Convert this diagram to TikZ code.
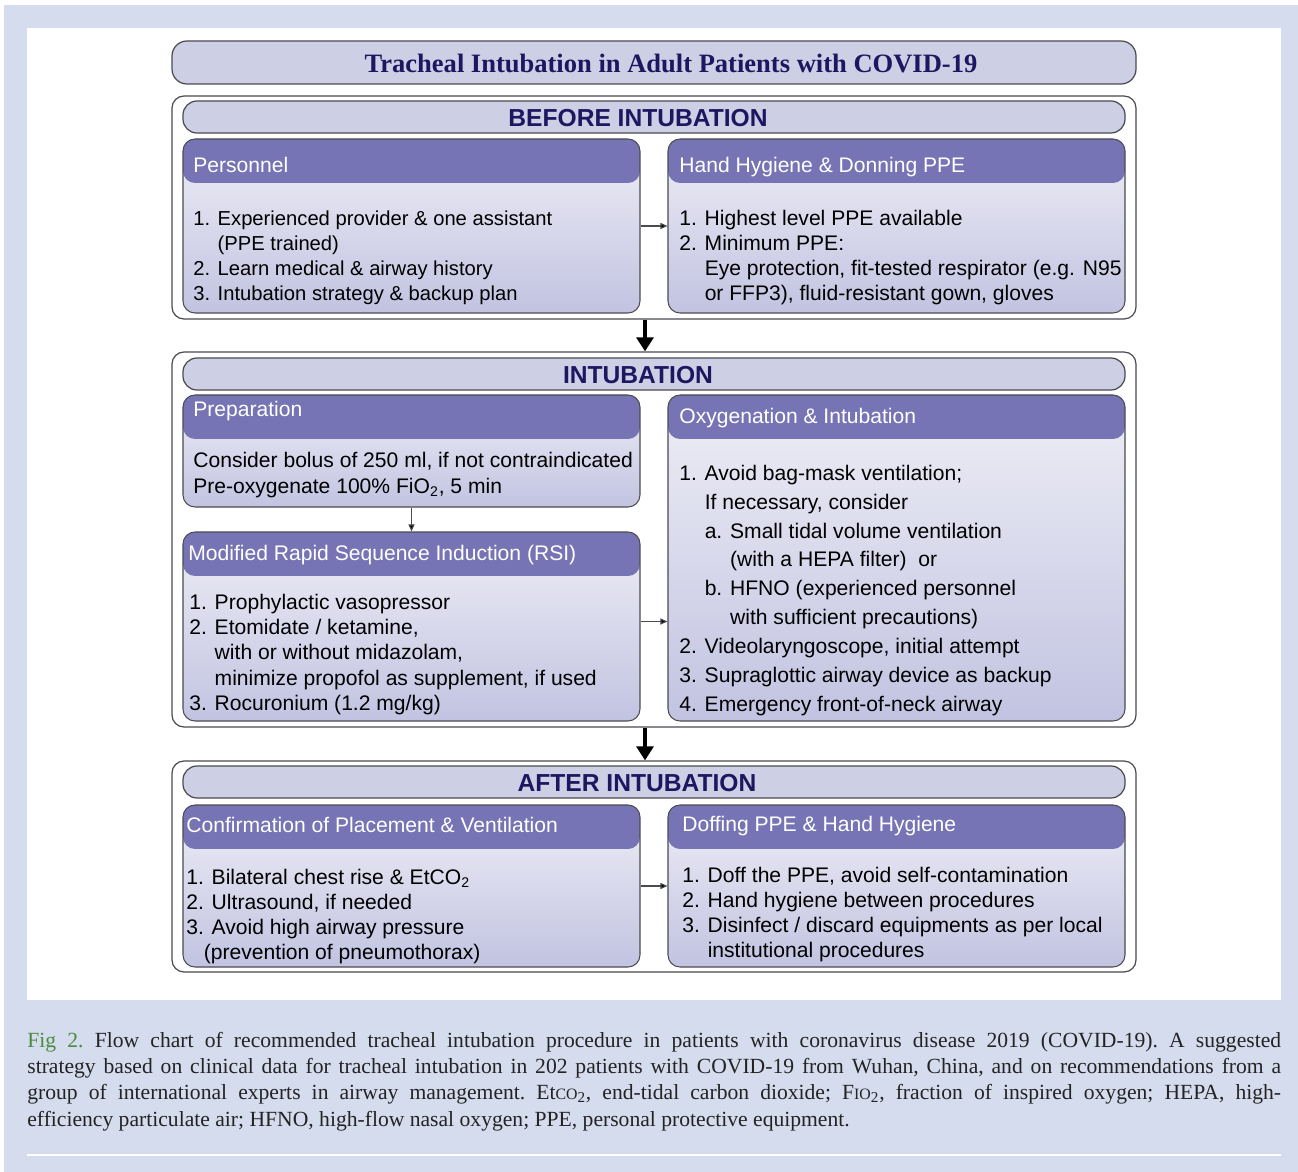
\documentclass[tikz,border=0pt]{standalone}
\usepackage{fontspec}
\setmainfont{Liberation Sans}
\newfontfamily\capfont{Liberation Serif}
\usetikzlibrary{arrows.meta}
\usetikzlibrary{fit}

\definecolor{pagebg}{RGB}{212,220,238}
\definecolor{barfill}{RGB}{205,207,229}
\definecolor{hdrpurple}{RGB}{118,116,180}
\definecolor{cardtop}{RGB}{238,238,246}
\definecolor{cardbot}{RGB}{194,195,225}
\definecolor{navytext}{RGB}{30,22,96}
\definecolor{edgegray}{RGB}{75,75,80}
\definecolor{figgreen}{RGB}{74,140,62}
\definecolor{captext}{RGB}{35,35,35}

\newcommand{\bodysize}[2]{\fontsize{#1}{#2}\selectfont}

\tikzset{
  panel/.style={draw=edgegray, fill=white, line width=0.7pt, rounded corners=0.24cm, inner sep=0pt},
  bar/.style={draw=edgegray, fill=barfill, line width=0.7pt, rounded corners=0.28cm, inner sep=0pt},
  card/.style={draw=edgegray, line width=0.6pt, rounded corners=0.24cm, inner sep=0pt,
    top color=cardtop, bottom color=cardbot,
    path picture={\fill[hdrpurple] (path picture bounding box.north west) rectangle ([yshift=-0.88cm]path picture bounding box.north east);}},
  cardhead/.style={anchor=base west, inner sep=0pt, text=white, font=\bodysize{12}{14pt}},
  cardbody/.style={anchor=north west, inner sep=0pt, align=left},
  bartext/.style={anchor=base, inner sep=0pt, text=navytext, font=\bodysize{14}{16pt}\bfseries},
  flowarrow/.style={draw=edgegray, line width=0.6pt, -{Triangle[length=4pt,width=3.4pt,fill=black]}},
  bigarrow/.style={line width=2.3pt, -{Triangle[length=8pt,width=9.6pt]}}
}

\begin{document}
\begin{tikzpicture}[x=0.02cm, y=-0.02cm]
\useasboundingbox (0,0) rectangle (1298,1172);
\fill[pagebg] (4,5) rectangle (1298,1172);
\fill[white] (27,28) rectangle (1281,1000);
\draw[white, line width=1.2pt] (27,1155) -- (1281,1155);

% title
\node[bar, rounded corners=0.3cm, fit={(172,41) (1136,84)}] (titlebar) {};
\node[anchor=base, inner sep=0pt, text=navytext, font=\capfont\bodysize{15.1}{17pt}\bfseries] (titletext) at (671,72.5) {Tracheal Intubation in Adult Patients with COVID-19};

% before intubation
\node[panel, fit={(172,96) (1136,319)}] (before) {};
\node[bar, fit={(183,101) (1125,133)}] (beforebar) {};
\node[bartext] (beforetext) at (638,127) {BEFORE INTUBATION};

\node[card, fit={(183,139) (640,313)}] (pers) {};
\node[cardhead] (pers-head) at (193,173) {Personnel};
\node[cardbody, font=\bodysize{11.5}{14.34pt}] (pers-body) at (193,207.3) {\strut 1. Experienced provider \& one assistant\\ \phantom{1. }(PPE trained)\\ 2. Learn medical \& airway history\\ 3. Intubation strategy \& backup plan};

\node[card, fit={(668,139) (1125,313)}] (hygiene) {};
\node[cardhead] (hygiene-head) at (679,173) {Hand Hygiene \& Donning PPE};
\node[cardbody, font=\bodysize{12}{14.34pt}] (hygiene-body) at (679,207.3) {\strut 1. Highest level PPE available\\ 2. Minimum PPE:\\ \phantom{1. }Eye protection, fit-tested respirator (e.g. N95\\ \phantom{1. }or FFP3), fluid-resistant gown, gloves};

\draw[flowarrow] (pers) -- (hygiene);

% intubation
\node[panel, fit={(172,352) (1136,727)}] (intub) {};
\node[bar, fit={(183,358) (1125,390)}] (intubbar) {};
\node[bartext] (intubtext) at (638,383) {INTUBATION};

\node[card, fit={(183,395) (640,507)}] (prep) {};
\node[cardhead] (prep-head) at (193,417) {Preparation};
\node[cardbody, font=\bodysize{12}{14.74pt}] (prep-body) at (193,448.8) {\strut Consider bolus of 250 ml, if not contraindicated\\ Pre-oxygenate 100\% FiO\textsubscript{2}, 5 min};

\node[card, fit={(183,532) (640,721)}] (rsi) {};
\node[cardhead] (rsi-head) at (188,560) {Modified Rapid Sequence Induction (RSI)};
\node[cardbody, font=\bodysize{12}{14.46pt}] (rsi-body) at (189,591) {\strut 1. Prophylactic vasopressor\\ 2. Etomidate / ketamine,\\ \phantom{1. }with or without midazolam,\\ \phantom{1. }minimize propofol as supplement, if used\\ 3. Rocuronium (1.2 mg/kg)};

\node[card, fit={(668,395) (1125,721)}] (oxy) {};
\node[cardhead] (oxy-head) at (679,423) {Oxygenation \& Intubation};
\node[cardbody, font=\bodysize{12}{16.44pt}] (oxy-body) at (679,459.7) {\strut 1. Avoid bag-mask ventilation;\\ \phantom{1. }If necessary, consider\\ \phantom{1. }a. Small tidal volume ventilation\\ \phantom{1. a. }(with a HEPA filter)\ \ or\\ \phantom{1. }b. HFNO (experienced personnel\\ \phantom{1. a. }with sufficient precautions)\\ 2. Videolaryngoscope, initial attempt\\ 3. Supraglottic airway device as backup\\ 4. Emergency front-of-neck airway};

\draw[flowarrow] (prep) -- (rsi);
\draw[flowarrow] ([yshift=0.1cm]rsi.east) -- ([yshift=0.1cm]rsi.east -| oxy.west);

% after intubation
\node[panel, fit={(172,761) (1136,972)}] (after) {};
\node[bar, fit={(183,766) (1125,798)}] (afterbar) {};
\node[bartext] (aftertext) at (637,791) {AFTER INTUBATION};

\node[card, fit={(183,805) (640,967)}] (confirm) {};
\node[cardhead] (confirm-head) at (186,832) {Confirmation of Placement \& Ventilation};
\node[cardbody, font=\bodysize{12}{14.34pt}] (confirm-body) at (186,866.3) {\strut 1. Bilateral chest rise \& EtCO\textsubscript{2}\\ 2. Ultrasound, if needed\\ 3. Avoid high airway pressure\\ \phantom{3.}(prevention of pneumothorax)};

\node[card, fit={(668,805) (1125,967)}] (doff) {};
\node[cardhead] (doff-head) at (682,831) {Doffing PPE \& Hand Hygiene};
\node[cardbody, font=\bodysize{12}{14.34pt}] (doff-body) at (682,864.3) {\strut 1. Doff the PPE, avoid self-contamination\\ 2. Hand hygiene between procedures\\ 3. Disinfect / discard equipments as per local\\ \phantom{1. }institutional procedures};

\draw[flowarrow] (confirm) -- (doff);

% between stages
\draw[bigarrow] ([xshift=-0.18cm]before.south) -- ([xshift=-0.18cm]intub.north);
\draw[bigarrow] ([xshift=-0.18cm]intub.south) -- ([xshift=-0.18cm]after.north);

% caption
\node[anchor=north west, inner sep=0pt, text width=25.08cm, align=justify, text=captext,
  font=\capfont\bodysize{12.3}{15.02pt}] (caption) at (27,1028.2)
  {\frenchspacing\hyphenpenalty=10000 \tolerance=10000 \strut\textcolor{figgreen}{Fig 2.} Flow chart of recommended tracheal intubation procedure in patients with coronavirus disease 2019 (COVID-19). A suggested\linebreak strategy based on clinical data for tracheal intubation in 202 patients with COVID-19 from Wuhan, China, and on recommendations from a\linebreak group of international experts in airway management. Et{\bodysize{9}{10pt}CO}\textsubscript{2}, end-tidal carbon dioxide; F{\bodysize{9}{10pt}IO}\textsubscript{2}, fraction of inspired oxygen; HEPA, high-\linebreak{}efficiency particulate air; HFNO, high-flow nasal oxygen; PPE, personal protective equipment.};
\end{tikzpicture}
\end{document}
